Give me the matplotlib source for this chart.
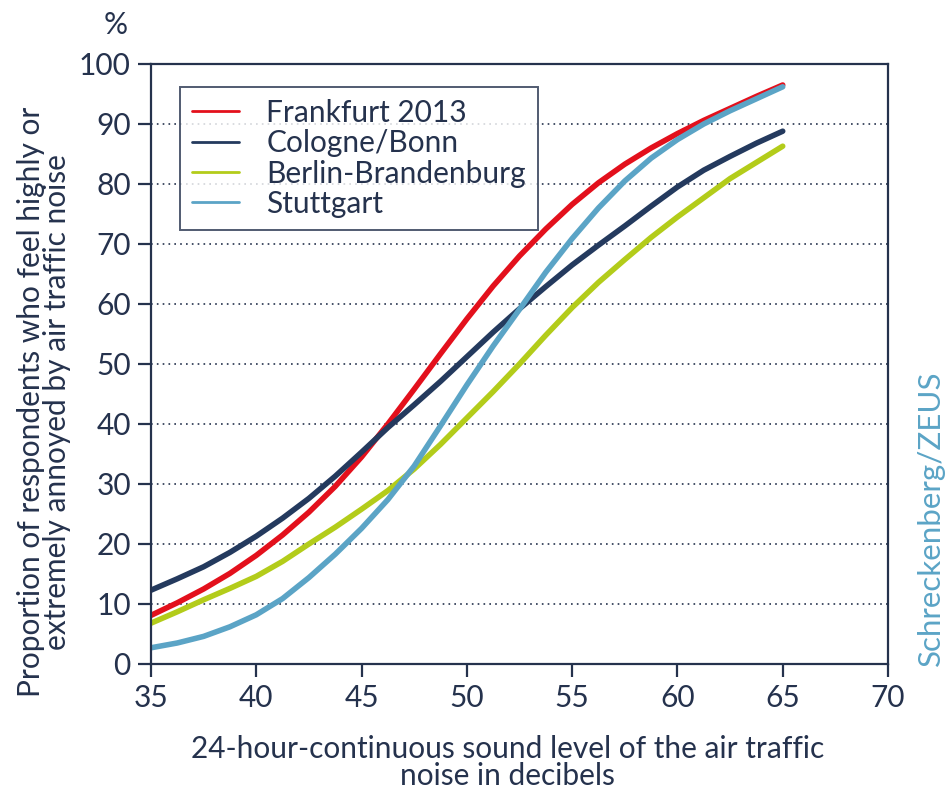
import numpy as np
import matplotlib
matplotlib.use("Agg")
import matplotlib.pyplot as plt

plt.rcParams['font.family'] = ['Lato', 'DejaVu Sans']

# sound level in dB, read every 1.25 dB
level = [35, 36.25, 37.5, 38.75, 40, 41.25, 42.5, 43.75, 45, 46.25, 47.5, 48.75, 50,
         51.25, 52.5, 53.75, 55, 56.25, 57.5, 58.75, 60, 61.25, 62.5, 63.75, 65]
frankfurt = [8.1, 10.2, 12.5, 15.1, 18.1, 21.5, 25.3, 29.6, 34.5, 40.0, 45.8, 51.7, 57.5,
             63.0, 68.0, 72.5, 76.6, 80.2, 83.3, 86.0, 88.4, 90.6, 92.6, 94.6, 96.5]
cologne = [12.3, 14.2, 16.2, 18.6, 21.3, 24.3, 27.6, 31.3, 35.3, 39.4, 43.2, 47.1, 51.2,
           55.3, 59.2, 62.9, 66.5, 69.8, 73.0, 76.3, 79.5, 82.3, 84.6, 86.8, 88.8]
berlin = [6.8, 8.7, 10.7, 12.6, 14.6, 17.1, 20.0, 22.8, 25.8, 28.9, 32.5, 36.6, 41.0,
          45.4, 50.0, 54.8, 59.4, 63.6, 67.4, 71.1, 74.5, 77.7, 80.9, 83.6, 86.3]
stuttgart = [2.7, 3.5, 4.6, 6.2, 8.2, 10.9, 14.4, 18.3, 22.6, 27.4, 33.0, 39.7, 46.5,
             53.0, 59.1, 65.3, 70.9, 76.0, 80.5, 84.3, 87.4, 90.0, 92.2, 94.2, 96.2]

names = ["Frankfurt 2013", "Cologne/Bonn", "Berlin-Brandenburg", "Stuttgart"]
colors = ["#e3101c", "#243a5e", "#b3cc1a", "#5ba4c6"]
navy = "#25324d"

fig = plt.figure(figsize=(9.46, 7.93), dpi=100)
ax = fig.add_axes([0.1596, 0.1627, 0.7791, 0.7566])

for ys, c, n in zip([frankfurt, cologne, berlin, stuttgart], colors, names):
    ax.plot(level, ys, color=c, lw=4, label=n, solid_capstyle='round',
            solid_joinstyle='round')

ax.set_xlim(35, 70)
ax.set_ylim(0, 100)
ax.set_xticks(range(35, 71, 5))
ax.set_yticks(range(0, 101, 10))
for y in range(10, 100, 10):
    ax.axhline(y, color=navy, lw=1.2, ls=(0, (1, 2.5)), zorder=0)

for s in ax.spines.values():
    s.set_color(navy)
    s.set_linewidth(1.6)
ax.tick_params(direction='out', length=9.5, width=1.6, color=navy,
               labelsize=21.5, labelcolor=navy, pad=5)

ax.set_xlabel("24-hour-continuous sound level of the air traffic\nnoise in decibels",
              fontsize=21.5, color=navy, linespacing=0.95)
ax.xaxis.set_label_coords(0.484, -0.118)
ax.xaxis.label.set_va('top')
ax.set_ylabel("Proportion of respondents who feel highly or\nextremely annoyed by air traffic noise",
              fontsize=21.5, color=navy, linespacing=0.95)
ax.yaxis.set_label_coords(-0.108, 0.437)

fig.text(0.122, 0.968, "%", fontsize=21.5, color=navy, ha='center', va='center')
fig.text(0.984, 0.347, "Schreckenberg/ZEUS", fontsize=22.5, color="#5ba4c6",
         rotation=90, ha='center', va='center')

leg = ax.legend(loc='upper left', bbox_to_anchor=(0.039, 0.962), fontsize=21.5,
                frameon=True, fancybox=False, handlelength=1.6, handletextpad=0.9,
                labelspacing=0.08, borderpad=0.4, borderaxespad=0, labelcolor=navy)
leg.get_frame().set_edgecolor(navy)
leg.get_frame().set_linewidth(1.4)
for h in leg.get_lines():
    h.set_linewidth(2)

fig.savefig("out.png", dpi=100)
